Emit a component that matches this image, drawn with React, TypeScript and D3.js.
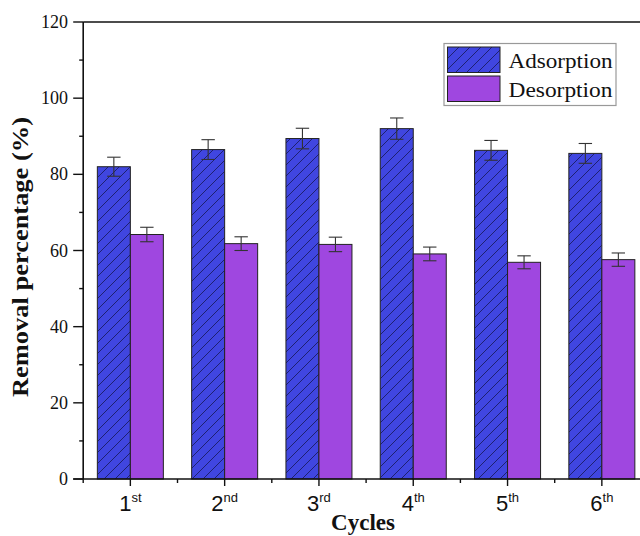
import React from "react";
import * as d3 from "d3";

const cycles = ["1", "2", "3", "4", "5", "6"];
const suffixes = ["st", "nd", "rd", "th", "th", "th"];
const series = ["Adsorption", "Desorption"];
const adsorption = [82.0, 86.5, 89.4, 92.0, 86.3, 85.5];
const adsorptionErr = [2.5, 2.6, 2.7, 2.8, 2.6, 2.6];
const desorption = [64.2, 61.8, 61.6, 59.1, 56.9, 57.6];
const desorptionErr = [1.9, 1.8, 1.9, 1.8, 1.7, 1.75];
const yTicks = [0, 20, 40, 60, 80, 100, 120];
const yMinorTicks = [10, 30, 50, 70, 90, 110];

const W = 640;
const H = 536;
const left = 83.2;
const top = 22;
const bottom = 479;
const step = 94.3;
const right = left + step * cycles.length;

const BLUE = "#4046e0";
const PURPLE = "#9f47e0";
const serif = "'Liberation Serif', 'Times New Roman', serif";
const sans = "'Liberation Sans', Arial, sans-serif";

export default function App() {
  const x = d3.scaleBand<string>().domain(cycles).range([left, right]).padding(0);
  const bw = x.bandwidth();
  const xs = d3
    .scaleBand<string>()
    .domain(series)
    .range([bw * 0.15, bw * 0.85])
    .padding(0);
  const y = d3.scaleLinear().domain([0, 120]).range([bottom, top]);

  const rows = cycles.map((c, i) => ({
    c,
    vals: [
      { s: series[0], v: adsorption[i], e: adsorptionErr[i] },
      { s: series[1], v: desorption[i], e: desorptionErr[i] },
    ],
  }));

  const fillFor = (s: string) => (s === series[0] ? "url(#hatchA)" : PURPLE);
  const capHalf = 6.7;
  const hs = 11;

  return (
    <svg
      width={W}
      height={H}
      viewBox={`0 0 ${W} ${H}`}
      style={{ position: "absolute", left: 0, top: 0, background: "#fff" }}
    >
      <defs>
        <pattern id="hatchA" patternUnits="userSpaceOnUse" width={hs} height={hs}>
          <rect width={hs} height={hs} fill={BLUE} />
          <path
            d={`M-1,${hs + 1} L${hs + 1},-1 M-${hs / 2},${hs / 2} L${hs / 2},-${hs / 2} M${hs / 2},${hs * 1.5} L${hs * 1.5},${hs / 2}`}
            stroke="#1e2170"
            strokeWidth={1}
          />
        </pattern>
      </defs>
      <rect width={W} height={H} fill="#fff" />

      {/* bars */}
      {rows.map((r) =>
        r.vals.map((d) => (
          <rect
            key={r.c + d.s}
            x={(x(r.c) as number) + (xs(d.s) as number)}
            y={y(d.v)}
            width={xs.bandwidth()}
            height={y(0) - y(d.v)}
            fill={fillFor(d.s)}
            stroke="#222"
            strokeWidth={1}
          />
        ))
      )}

      {/* error bars */}
      {rows.map((r) =>
        r.vals.map((d) => {
          const cx = (x(r.c) as number) + (xs(d.s) as number) + xs.bandwidth() / 2;
          return (
            <g key={"e" + r.c + d.s} stroke="#333" strokeWidth={1.1} fill="none">
              <line x1={cx} x2={cx} y1={y(d.v + d.e)} y2={y(d.v - d.e)} />
              <line x1={cx - capHalf} x2={cx + capHalf} y1={y(d.v + d.e)} y2={y(d.v + d.e)} />
              <line x1={cx - capHalf} x2={cx + capHalf} y1={y(d.v - d.e)} y2={y(d.v - d.e)} />
            </g>
          );
        })
      )}

      {/* frame */}
      <g stroke="#111" strokeWidth={1.6} fill="none">
        <line x1={left} x2={left} y1={top} y2={bottom} />
        <line x1={left} x2={right} y1={top} y2={top} />
        <line x1={left - 10} x2={right} y1={bottom} y2={bottom} />
      </g>

      {/* y ticks */}
      <g stroke="#111" strokeWidth={1.4}>
        {yTicks.map((t) => (
          <line key={"yt" + t} x1={left - 10} x2={left} y1={y(t)} y2={y(t)} />
        ))}
        {yMinorTicks.map((t) => (
          <line key={"ym" + t} x1={left - 4} x2={left} y1={y(t)} y2={y(t)} />
        ))}
      </g>
      {yTicks.map((t) => (
        <text
          key={"yl" + t}
          x={68}
          y={y(t)}
          dy="0.34em"
          textAnchor="end"
          fontFamily={serif}
          fontSize={18}
          fill="#111"
        >
          {t}
        </text>
      ))}

      {/* x ticks */}
      <g stroke="#111" strokeWidth={1.4}>
        {cycles.map((c) => (
          <line
            key={"xt" + c}
            x1={(x(c) as number) + bw / 2}
            x2={(x(c) as number) + bw / 2}
            y1={bottom}
            y2={bottom + 7}
          />
        ))}
        {cycles.map((c) => (
          <line
            key={"xm" + c}
            x1={x(c) as number}
            x2={x(c) as number}
            y1={bottom}
            y2={bottom + 4}
          />
        ))}
      </g>
      {cycles.map((c, i) => (
        <text
          key={"xl" + c}
          x={(x(c) as number) + bw / 2}
          y={511}
          textAnchor="middle"
          fontFamily={sans}
          fontSize={22}
          fill="#111"
        >
          {c}
          <tspan fontSize={13} dy={-9}>
            {suffixes[i]}
          </tspan>
        </text>
      ))}

      {/* axis titles */}
      <text
        x={363}
        y={530}
        textAnchor="middle"
        fontFamily={serif}
        fontWeight="bold"
        fontSize={23}
        fill="#111"
      >
        Cycles
      </text>
      <text
        transform={`translate(28,257) rotate(-90)`}
        textAnchor="middle"
        fontFamily={serif}
        fontWeight="bold"
        fontSize={24}
        textLength={280}
        lengthAdjust="spacingAndGlyphs"
        fill="#111"
      >
        Removal percentage (%)
      </text>

      {/* legend */}
      <g>
        <rect x={444} y={43.5} width={172} height={62} fill="#fff" stroke="#999" strokeWidth={1.2} />
        <rect x={447.5} y={47} width={52.5} height={25.5} fill="url(#hatchA)" stroke="#222" strokeWidth={1} />
        <rect x={447.5} y={76} width={52.5} height={25.5} fill={PURPLE} stroke="#222" strokeWidth={1} />
        <text
          x={508.5}
          y={68}
          fontFamily={serif}
          fontSize={22}
          textLength={104}
          lengthAdjust="spacingAndGlyphs"
          fill="#111"
        >
          {series[0]}
        </text>
        <text
          x={508.5}
          y={97}
          fontFamily={serif}
          fontSize={22}
          textLength={104}
          lengthAdjust="spacingAndGlyphs"
          fill="#111"
        >
          {series[1]}
        </text>
      </g>
    </svg>
  );
}
